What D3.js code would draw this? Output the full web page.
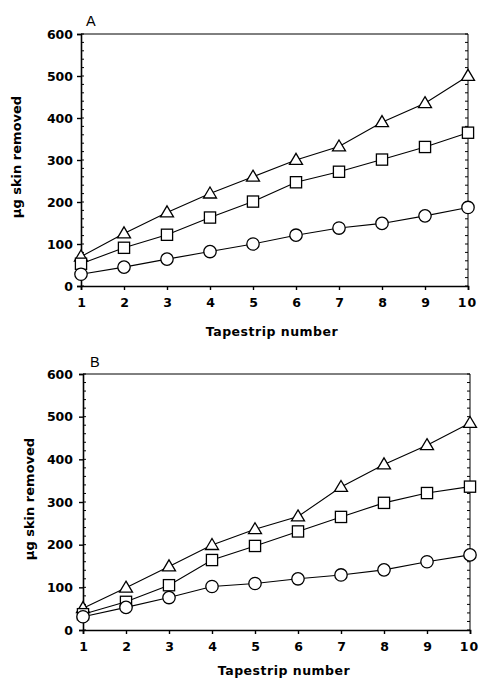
<!DOCTYPE html>
<html>
<head>
<meta charset="utf-8">
<script src="https://cdn.jsdelivr.net/npm/d3@7"></script>
<style>
  body { margin: 0; background: #fff; }
  svg { display: block; }
</style>
</head>
<body>
<svg id="chart" width="479" height="679"></svg>
<script>
// tapestrip numbers
const strips = [1, 2, 3, 4, 5, 6, 7, 8, 9, 10]
const yTicks = [0, 100, 200, 300, 400, 500, 600]

// panel A values (ug skin removed)
const aTriangle = [70, 125, 175, 220, 260, 300, 332, 390, 435, 500]
const aSquare = [53, 91, 122, 163, 201, 247, 272, 301, 331, 365]
const aCircle = [28, 45, 64, 82, 100, 121, 138, 149, 167, 187]

// panel B values
const bTriangle = [51, 99, 149, 199, 236, 266, 335, 388, 433, 485]
const bSquare = [37, 66, 105, 164, 197, 231, 265, 298, 321, 336]
const bCircle = [31, 53, 76, 102, 109, 120, 129, 141, 160, 176]

const svg = d3.select("#chart")
const tickFont = "'DejaVu Sans', sans-serif"

const panels = [
    {label: "A", left: 81, right: 468, top: 34, bottom: 286,
        labelX: 86, labelY: 26, ylabX: 21, ylabY: 157, xlabY: 336, xlabX: 272, yGap: 8,
        series: [{shape: "triangle", values: aTriangle},
                 {shape: "square", values: aSquare},
                 {shape: "circle", values: aCircle}]},
    {label: "B", left: 83, right: 470, top: 374, bottom: 630,
        labelX: 90, labelY: 367, ylabX: 34, ylabY: 499, xlabY: 675, xlabX: 284, yGap: 10,
        series: [{shape: "triangle", values: bTriangle},
                 {shape: "square", values: bSquare},
                 {shape: "circle", values: bCircle}]}
]

function drawMarker(g, shape, x, y) {
    if (shape === "circle") {
        g.append("circle").attr("cx", x).attr("cy", y).attr("r", 6.2)
    } else if (shape === "square") {
        g.append("rect").attr("x", x - 5.6).attr("y", y - 5.6)
            .attr("width", 11.2).attr("height", 11.2)
    } else {
        // triangle, centred on the point
        const h = 11, w = 13
        g.append("path")
            .attr("d", `M${x},${y - h * 0.6}L${x + w / 2},${y + h * 0.4}L${x - w / 2},${y + h * 0.4}Z`)
    }
}

panels.forEach(p => {
    const x = d3.scaleLinear().domain([1, 10]).range([p.left, p.right])
    const y = d3.scaleLinear().domain([0, 600]).range([p.bottom, p.top])
    const g = svg.append("g")

    // frame
    g.append("line").attr("x1", p.left).attr("x2", p.right)
        .attr("y1", p.top).attr("y2", p.top)
        .attr("stroke", "#000").attr("stroke-width", 1)
    g.append("line").attr("x1", p.right).attr("x2", p.right)
        .attr("y1", p.top).attr("y2", p.bottom)
        .attr("stroke", "#000").attr("stroke-width", 1)

    // minor ticks, inward on left and right
    const minor = d3.range(0, 601, 20)
    g.selectAll(".minL").data(minor).join("line")
        .attr("x1", p.left).attr("x2", p.left + 3)
        .attr("y1", d => y(d)).attr("y2", d => y(d))
        .attr("stroke", "#000").attr("stroke-width", 1)
    g.selectAll(".minR").data(minor).join("line")
        .attr("x1", p.right).attr("x2", p.right - 3)
        .attr("y1", d => y(d)).attr("y2", d => y(d))
        .attr("stroke", "#000").attr("stroke-width", 1)

    // left axis
    const yAxis = g.append("g")
        .attr("transform", `translate(${p.left},0)`)
        .call(d3.axisLeft(y).tickValues(yTicks).tickSize(4).tickPadding(p.yGap - 4).tickFormat(d3.format("d")))
    yAxis.select(".domain").attr("stroke-width", 1.6)
    yAxis.selectAll(".tick line").attr("stroke-width", 1.4)
    yAxis.selectAll("text")
        .attr("font-family", tickFont).attr("font-weight", "bold")
        .attr("font-size", "12.5px").attr("fill", "#000")

    // bottom axis
    const xAxis = g.append("g")
        .attr("transform", `translate(0,${p.bottom})`)
        .call(d3.axisBottom(x).tickValues(strips).tickSize(4).tickPadding(8).tickFormat(d3.format("d")))
    xAxis.select(".domain").attr("stroke-width", 1.6)
    xAxis.selectAll(".tick line").attr("stroke-width", 1.4)
    xAxis.selectAll("text")
        .attr("font-family", tickFont).attr("font-weight", "bold")
        .attr("font-size", "12.5px").attr("fill", "#000")
        .attr("letter-spacing", d => d === 10 ? "1px" : null)
        .attr("dx", d => d === 10 ? "-1" : null)

    // lines and markers
    const line = d3.line().x((d, i) => x(strips[i])).y(d => y(d))
    p.series.forEach(s => {
        g.append("path").datum(s.values)
            .attr("d", line).attr("fill", "none")
            .attr("stroke", "#000").attr("stroke-width", 1.1)
    })
    p.series.forEach(s => {
        const mg = g.append("g")
            .attr("fill", "#fff").attr("stroke", "#000").attr("stroke-width", 1.3)
        s.values.forEach((v, i) => drawMarker(mg, s.shape, x(strips[i]), y(v)))
    })

    // panel letter
    g.append("text").attr("x", p.labelX).attr("y", p.labelY)
        .attr("font-family", "'Liberation Sans', Arial, sans-serif")
        .attr("font-size", "14.5px").text(p.label)

    // axis titles
    g.append("text")
        .attr("transform", `translate(${p.ylabX},${p.ylabY}) rotate(-90)`)
        .attr("text-anchor", "middle")
        .attr("font-family", tickFont).attr("font-weight", "bold")
        .attr("font-size", "13px").text("\u00b5g skin removed")
    g.append("text")
        .attr("x", p.xlabX).attr("y", p.xlabY)
        .attr("text-anchor", "middle")
        .attr("font-family", tickFont).attr("font-weight", "bold")
        .attr("font-size", "12.5px").attr("letter-spacing", "0.5px")
        .text("Tapestrip number")
})
</script>
</body>
</html>
